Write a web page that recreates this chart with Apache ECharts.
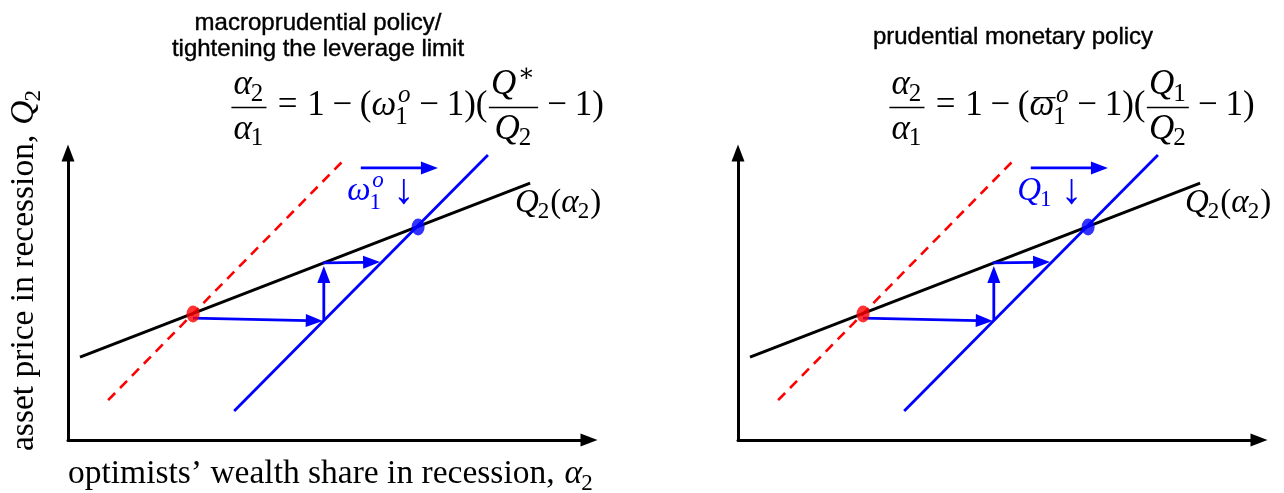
<!DOCTYPE html>
<html><head><meta charset="utf-8">
<script src="https://cdn.jsdelivr.net/npm/echarts@6/dist/echarts.min.js"></script>
<style>html,body{margin:0;padding:0;background:#fff}#c{width:1284px;height:493px}</style>
</head><body><div id="c"></div>
<script>
// ---------- data (panel coordinate space: 0..100 on both axes) ----------
const blackCurve = [[2.3, 28.9], [88.7, 89.5]];          // Q2(alpha2)
const redDashed  = [[7.7, 13.9], [52.6, 96.9]];          // initial schedule
const blueLine   = [[31.9, 10.1], [80.6, 99.3]];         // shifted schedule
const redDot     = [[24.0, 43.9]];
const blueDot    = [[67.2, 74.2]];
const pathArrows = [[24.0, 42.5, 48.9, 41.5], [49.1, 41.8, 49.1, 60.6], [48.9, 61.7, 59.9, 62.0]];
const shiftArrow = [[56.2, 94.8, 71.0, 94.8]];
const curveLabelPos = [85.8, 78.4];
const shiftLabelPos = [53.6, 82.8];
const panelTitles = [['macroprudential policy/', 'tightening the leverage limit'], ['prudential monetary policy']];
const xAxisText = 'optimists’ wealth share in recession,';
const yAxisText = 'asset price in recession,';

const BLACK = '#000000', BLUE = '#0000ff', RED = '#ff0000';
const gridBoxes = [{left: 68, top: 153, width: 521, height: 287}, {left: 738, top: 153, width: 521, height: 287}];

const chart = echarts.init(document.getElementById('c'), null, {renderer: 'canvas'});

function axisOpt(i) {
  return {
    gridIndex: i, type: 'value', min: 0, max: 100,
    axisLine: {show: true, onZero: false, symbol: ['none', 'triangle'], symbolSize: [13, 17],
      lineStyle: {color: BLACK, width: 3}},
    axisTick: {show: false}, axisLabel: {show: false}, splitLine: {show: false}
  };
}

function renderArrow(params, api) {
  const p1 = api.coord([api.value(0), api.value(1)]);
  const p2 = api.coord([api.value(2), api.value(3)]);
  const dx = p2[0] - p1[0], dy = p2[1] - p1[1];
  const L = Math.hypot(dx, dy), ux = dx / L, uy = dy / L;
  const hl = 17, hw = 6.5;
  const bx = p2[0] - ux * hl, by = p2[1] - uy * hl;
  return {
    type: 'group', children: [
      {type: 'line', shape: {x1: p1[0], y1: p1[1], x2: bx + ux * 2, y2: by + uy * 2}, style: {stroke: BLUE, lineWidth: 2.8}},
      {type: 'polygon', shape: {points: [[p2[0], p2[1]], [bx - uy * hw, by + ux * hw], [bx + uy * hw, by - ux * hw]]}, style: {fill: BLUE}}
    ]
  };
}

const xAxes = [], yAxes = [], series = [];
for (let i = 0; i < 2; i++) {
  xAxes.push(axisOpt(i));
  yAxes.push(axisOpt(i));
  const ax = {xAxisIndex: i, yAxisIndex: i};
  series.push(Object.assign({type: 'line', data: redDashed, showSymbol: false, symbol: 'none', clip: false, silent: true,
    lineStyle: {color: RED, width: 2.6, type: [10, 7]}, z: 2}, ax));
  series.push(Object.assign({type: 'line', data: blackCurve, showSymbol: false, symbol: 'none', clip: false, silent: true,
    lineStyle: {color: BLACK, width: 3}, z: 3}, ax));
  series.push(Object.assign({type: 'line', data: blueLine, showSymbol: false, symbol: 'none', clip: false, silent: true,
    lineStyle: {color: BLUE, width: 2.8}, z: 3}, ax));
  series.push(Object.assign({type: 'custom', data: pathArrows.concat(shiftArrow), renderItem: renderArrow, clip: false, silent: true,
    dimensions: ['x1', 'y1', 'x2', 'y2'], encode: {x: [0, 2], y: [1, 3]}, z: 4}, ax));
  series.push(Object.assign({type: 'scatter', data: redDot, symbol: 'circle', symbolSize: [13, 17], itemStyle: {color: RED}, silent: true, z: 5}, ax));
  series.push(Object.assign({type: 'scatter', data: blueDot, symbol: 'circle', symbolSize: [13, 17], itemStyle: {color: BLUE}, silent: true, z: 5}, ax));
}

chart.setOption({
  animation: false,
  backgroundColor: '#ffffff',
  grid: gridBoxes.map(g => Object.assign({containLabel: false}, g)),
  xAxis: xAxes, yAxis: yAxes, series: series
});

// ---------- math-like text layout ----------
const SERIF = '"Liberation Serif", "DejaVu Serif", serif';
const SANS = '"Liberation Sans", Arial, sans-serif';
const K = 0.34, AXIS = 0.3, NUM = 0.6, DEN = 0.68, RULE = 1.4;
const mctx = document.createElement('canvas').getContext('2d');
function fontOf(it, fs) { return (it ? 'italic ' : '') + fs + 'px ' + SERIF; }
function mw(t, it, fs) { mctx.font = fontOf(it, fs); return mctx.measureText(t).width; }
function glyph(out, t, it, fs, x, base, color) {
  if (!out) return;
  out.push({type: 'text', silent: true, x: x, y: base - K * fs,
    style: {text: t, font: fontOf(it, fs), fill: color, align: 'left', verticalAlign: 'middle', textAlign: 'left', textVerticalAlign: 'middle'}});
}
const A = (t, o) => Object.assign({k: 'g', t: t, it: true}, o || {});
const R = (t, o) => Object.assign({k: 'g', t: t, it: false}, o || {});
const S = w => ({k: 's', w: w});
const Fr = (num, den) => ({k: 'f', num: num, den: den});

function layoutRow(atoms, s, x0, base, color, out) {
  let x = x0;
  for (const a of atoms) {
    if (a.k === 's') { x += a.w * s; continue; }
    if (a.k === 'f') {
      const nw = layoutRow(a.num, s, 0, 0, color, null);
      const dw = layoutRow(a.den, s, 0, 0, color, null);
      const pad = 0.1 * s;
      const w = Math.max(nw, dw) + 2 * pad;
      const axis = base - AXIS * s;
      if (out) out.push({type: 'line', silent: true, shape: {x1: x + pad * 0.4, y1: axis, x2: x + w - pad * 0.4, y2: axis}, style: {stroke: color, lineWidth: RULE}});
      layoutRow(a.num, s, x + (w - nw) / 2, base - NUM * s, color, out);
      layoutRow(a.den, s, x + (w - dw) / 2, base + DEN * s, color, out);
      x += w; continue;
    }
    const gs = s * (a.scale || 1);
    const w = mw(a.t, a.it, gs);
    glyph(out, a.t, a.it, gs, x, base + (a.dy || 0) * s, color);
    if (a.bar && out) out.push({type: 'line', silent: true, shape: {x1: x + 0.12 * s, y1: base - 0.58 * s, x2: x + w + 0.04 * s, y2: base - 0.58 * s}, style: {stroke: color, lineWidth: RULE}});
    const ss = Math.round(s * 0.7);
    let sw = 0;
    if (a.sub) {
      const sx = x + w - (a.it ? 0.03 * s : 0);
      glyph(out, a.sub, false, ss, sx, base + (a.sup ? 0.24 : 0.16) * s, color);
      sw = Math.max(sw, sx - x - w + mw(a.sub, false, ss));
    }
    if (a.sup) {
      const sIt = a.supIt !== false;
      const sx = x + w + (a.it ? 0.05 * s : 0);
      glyph(out, a.sup, sIt, ss, sx, base - 0.40 * s, color);
      sw = Math.max(sw, sx - x - w + mw(a.sup, sIt, ss));
    }
    x += w + sw + (sw > 0 ? 0.03 * s : 0);
  }
  return x - x0;
}

// formulas
const fracA = Fr([A('α', {sub: '2'})], [A('α', {sub: '1'})]);
const formulaLeft = [fracA, S(0.28), R('='), S(0.28), R('1'), S(0.22), R('−'), S(0.22), R('('),
  A('ω', {sub: '1', sup: 'o'}), S(0.22), R('−'), S(0.22), R('1'), R(')'), R('('),
  Fr([A('Q', {sup: '∗', supIt: false})], [A('Q', {sub: '2'})]), S(0.22), R('−'), S(0.22), R('1'), R(')')];
const formulaRight = [fracA, S(0.28), R('='), S(0.28), R('1'), S(0.22), R('−'), S(0.22), R('('),
  A('ω', {sub: '1', sup: 'o', bar: true}), S(0.22), R('−'), S(0.22), R('1'), R(')'), R('('),
  Fr([A('Q', {sub: '1'})], [A('Q', {sub: '2'})]), S(0.22), R('−'), S(0.22), R('1'), R(')')];
const downArrow = R('↓', {scale: 1.3, dy: 0.12});
const shiftLabels = [[A('ω', {sub: '1', sup: 'o'}), S(0.25), downArrow], [A('Q', {sub: '1'}), S(0.25), downArrow]];
const curveLabel = [A('Q', {sub: '2'}), R('('), A('α', {sub: '2'}), R(')')];

const els = [];
// titles
function title(t, cx, cy) {
  els.push({type: 'text', silent: true, x: cx, y: cy, style: {text: t, font: '24px ' + SANS, fill: BLACK,
    stroke: BLACK, lineWidth: 0.4,
    align: 'center', verticalAlign: 'middle', textAlign: 'center', textVerticalAlign: 'middle'}});
}
title(panelTitles[0][0], 318, 23);
title(panelTitles[0][1], 318, 49);
title(panelTitles[1][0], 1013, 37);

const FS = 35;
layoutRow(formulaLeft, FS, 230, 118, BLACK, els);
layoutRow(formulaRight, FS, 888, 118, BLACK, els);

const LS = 33;
for (let i = 0; i < 2; i++) {
  const p1 = chart.convertToPixel({xAxisIndex: i, yAxisIndex: i}, shiftLabelPos);
  layoutRow(shiftLabels[i], LS, p1[0], p1[1], BLUE, els);
  const p2 = chart.convertToPixel({xAxisIndex: i, yAxisIndex: i}, curveLabelPos);
  layoutRow(curveLabel, LS, p2[0], p2[1], BLACK, els);
}

// axis titles (left panel only)
const AF = 33.5;
layoutRow([R(xAxisText), S(0.3), A('α', {sub: '2'})], AF, 68, 486, BLACK, els);
const yl = [];
layoutRow([R(yAxisText), S(0.3), A('Q', {sub: '2'})], AF, 0, 0, BLACK, yl);
els.push({type: 'group', x: 36, y: 451, rotation: Math.PI / 2, silent: true, children: yl});

chart.setOption({graphic: els});
</script></body></html>
